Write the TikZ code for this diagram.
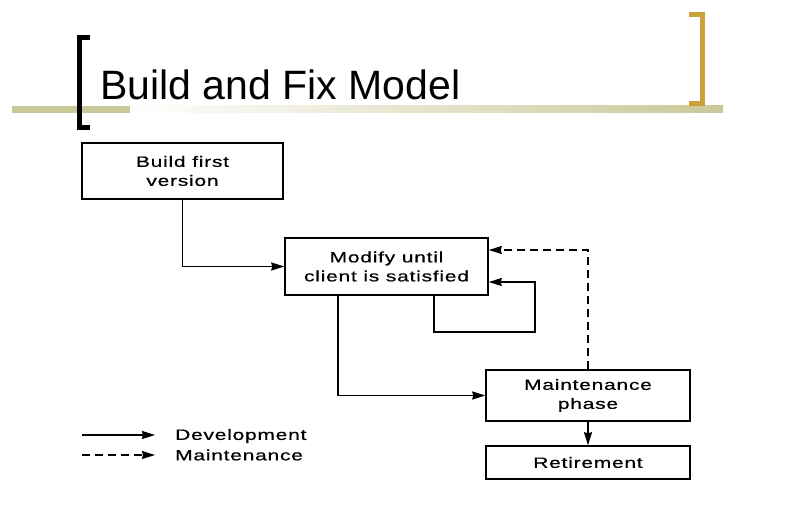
\documentclass[tikz,border=0pt]{standalone}
\usepackage{fontspec}
\setmainfont{Liberation Sans}
\newfontfamily\boxfont{Liberation Sans}[FakeStretch=1.4,LetterSpace=5,FakeBold=0.6]
\usetikzlibrary{arrows.meta}
\definecolor{khaki}{RGB}{202,200,152}
\definecolor{gold}{RGB}{204,160,58}
\tikzset{
  phase/.style={draw, line width=1.5pt, inner sep=0pt, align=center,
    font=\boxfont\fontsize{15}{19}\selectfont},
  dev/.style={line width=1.6pt, -{Stealth[length=13pt,width=8pt,inset=1pt]}},
  mnt/.style={dev, dash pattern=on 8pt off 5pt},
  legend/.style={anchor=west, inner sep=0pt, font=\boxfont\fontsize{15}{19}\selectfont}
}
\begin{document}
\begin{tikzpicture}[x=1pt, y=-1pt]
    \fill[white] (0,0) rectangle (786,518);
    % title bar and brackets
    \fill[khaki] (12,106) rectangle (130,113);
    \shade[left color=white, right color=khaki] (130,106) rectangle (723,113);
    \draw[line width=5pt] (90,38) -- (79.5,38) -- (79.5,128) -- (90,128);
    \draw[gold, line width=5pt] (689,14.5) -- (702.5,14.5) -- (702.5,103.5) -- (689,103.5);
    \node[anchor=base west, inner sep=0pt, font=\fontsize{41}{48}\selectfont] (title) at (100,100) {Build and Fix Model};
    % phases
    \node[phase, minimum width=201pt, minimum height=56pt] (build) at (182.5,171) {Build first\\version};
    \node[phase, minimum width=203pt, minimum height=57pt] (modify) at (386.5,266.5) {Modify until\\client is satisfied};
    \node[phase, minimum width=204pt, minimum height=51pt] (maint) at (588,395.5) {Maintenance\\phase};
    \node[phase, minimum width=204pt, minimum height=33pt] (retire) at (588,462.5) {Retirement};
    \coordinate (loop) at (535,332);
    % development
    \draw[dev] (build.south) |- (modify.west);
    \draw[dev] ([xshift=-48.5pt]modify.south) |- (maint.west);
    \draw[dev] ([xshift=47.5pt]modify.south) |- (loop) |- ([yshift=-15.5pt]modify.east);
    \draw[dev] (maint) -- (retire);
    % maintenance
    \draw[mnt] (maint.north) |- ([yshift=16.5pt]modify.east);
    % legend
    \node[legend] (devlbl) at (175,436) {Development};
    \node[legend] (mntlbl) at (175,455) {Maintenance};
    \coordinate (devstart) at (82,435);
    \coordinate (mntstart) at (82,455);
    \draw[dev] (devstart) -- ++(73,0);
    \draw[mnt] (mntstart) -- ++(73,0);
\end{tikzpicture}
\end{document}
